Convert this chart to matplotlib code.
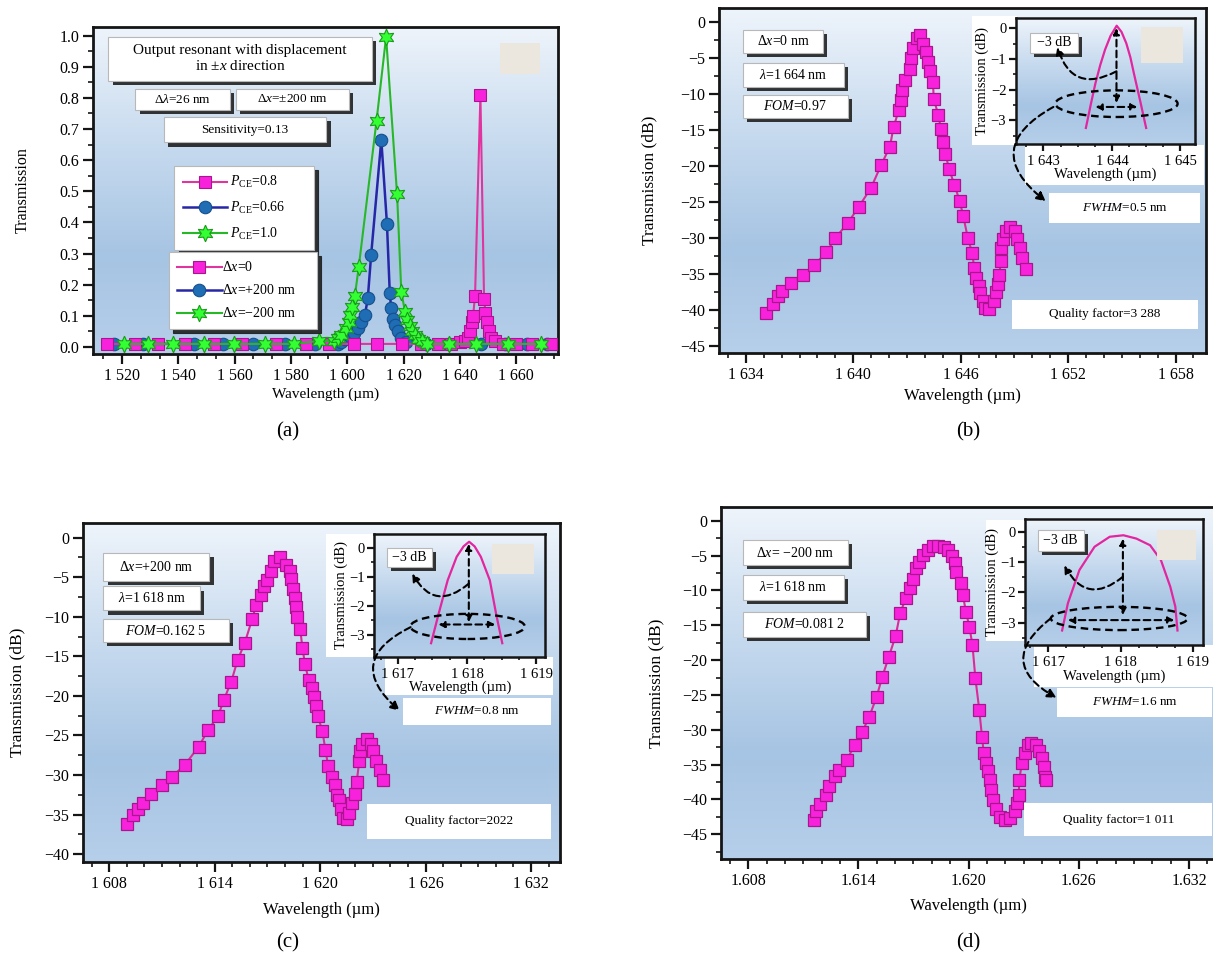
"Transmission spectra of the displaced cavity, four panels"

import matplotlib.pyplot as plt
import matplotlib.patches as mpatches
import matplotlib.patheffects as pe
import numpy as np
from matplotlib.colors import LinearSegmentedColormap
from matplotlib.ticker import FuncFormatter, MultipleLocator

plt.rcParams["font.family"] = ["Liberation Serif", "DejaVu Serif"]
plt.rcParams["mathtext.fontset"] = "custom"
plt.rcParams["mathtext.rm"] = "Liberation Serif"
plt.rcParams["mathtext.it"] = "Liberation Serif:italic"
plt.rcParams["mathtext.bf"] = "Liberation Serif:bold"

#####
# Data
#####

# (a) transmission against wavelength (nm)
a_x_zero = [1514.5, 1524.5, 1532.6, 1542.3, 1552.6, 1562.6, 1574.6, 1585.3, 1593.4,
            1602.4, 1610.4, 1619.5, 1626.1, 1632.2, 1636.7, 1640.0, 1642.0, 1643.0,
            1643.7, 1644.2, 1644.7, 1645.4, 1647.3, 1648.6, 1649.1, 1649.6, 1650.3,
            1651.2, 1652.5, 1655.5, 1660.0, 1665.8, 1672.3]
a_t_zero = [0.01, 0.01, 0.01, 0.01, 0.01, 0.01, 0.01, 0.01, 0.01, 0.01, 0.01, 0.01,
            0.01, 0.01, 0.01, 0.015, 0.02, 0.03, 0.05, 0.08, 0.10, 0.165, 0.81, 0.155,
            0.11, 0.08, 0.05, 0.03, 0.02, 0.01, 0.01, 0.01, 0.01]

a_x_plus = [1517.0, 1527.4, 1545.5, 1555.8, 1566.5, 1577.8, 1588.5, 1596.6, 1597.9,
            1599.2, 1601.1, 1602.4, 1603.7, 1605.0, 1606.3, 1607.3, 1608.5, 1612.1,
            1614.1, 1615.1, 1615.6, 1616.4, 1617.0, 1618.0, 1619.0, 1621.0, 1628.0,
            1636.0, 1647.5, 1656.0, 1664.0, 1671.0]
a_t_plus = [0.01, 0.01, 0.01, 0.01, 0.01, 0.01, 0.01, 0.01, 0.015, 0.025, 0.035, 0.045,
            0.06, 0.08, 0.103, 0.157, 0.297, 0.665, 0.396, 0.175, 0.125, 0.09, 0.07,
            0.05, 0.03, 0.015, 0.01, 0.01, 0.01, 0.01, 0.01, 0.01]

a_x_minus = [1520.6, 1529.3, 1538.0, 1549.0, 1559.7, 1570.7, 1581.1, 1590.1, 1595.3,
             1596.6, 1597.9, 1599.6, 1600.5, 1601.1, 1601.8, 1602.7, 1604.1, 1610.4,
             1613.8, 1617.7, 1619.2, 1620.5, 1621.4, 1622.2, 1623.1, 1624.1, 1625.0,
             1626.4, 1628.3, 1636.0, 1645.8, 1657.0, 1668.7]
a_t_minus = [0.01, 0.01, 0.01, 0.01, 0.01, 0.01, 0.01, 0.02, 0.018, 0.03, 0.04, 0.06,
             0.08, 0.103, 0.13, 0.164, 0.258, 0.726, 0.996, 0.49, 0.178, 0.114, 0.087,
             0.066, 0.05, 0.037, 0.027, 0.018, 0.01, 0.01, 0.01, 0.01, 0.01]

a_pce_labels = ["$P_{\\rm CE}$=0.8", "$P_{\\rm CE}$=0.66", "$P_{\\rm CE}$=1.0"]
a_dx_labels = ["Δ$x$=0", "Δ$x$=+200 nm", "Δ$x$=−200 nm"]
a_xticks = [1520, 1540, 1560, 1580, 1600, 1620, 1640, 1660]
a_yticks = [0.0, 0.1, 0.2, 0.3, 0.4, 0.5, 0.6, 0.7, 0.8, 0.9, 1.0]

# (b) dx = 0, transmission in dB
b_x = [1635.15, 1635.5, 1635.8, 1636.0, 1636.55, 1637.2, 1637.8, 1638.5, 1639.0,
       1639.7, 1640.3, 1641.0, 1641.55, 1642.05, 1642.25, 1642.55, 1642.65, 1642.75,
       1642.9, 1643.15, 1643.2, 1643.35, 1643.55, 1643.75, 1643.9, 1644.05, 1644.2,
       1644.3, 1644.45, 1644.5, 1644.75, 1644.9, 1645.0, 1645.15, 1645.35, 1645.65,
       1645.95, 1646.15, 1646.4, 1646.65, 1646.75, 1646.85, 1647.0, 1647.1, 1647.25,
       1647.35, 1647.6, 1647.85, 1647.95, 1648.1, 1648.15, 1648.25, 1648.28, 1648.35,
       1648.55, 1648.75, 1649.05, 1649.15, 1649.3, 1649.45, 1649.65]
b_t = [-40.4, -39.2, -38.1, -37.3, -36.2, -35.1, -33.8, -32.0, -30.0, -27.9, -25.7,
       -23.0, -19.9, -17.3, -14.6, -12.2, -10.8, -9.4, -8.0, -6.5, -5.0, -3.6, -2.2,
       -1.8, -3.1, -4.2, -5.5, -6.8, -8.4, -10.7, -12.9, -14.9, -16.7, -18.3, -20.4,
       -22.6, -24.9, -27.0, -30.0, -32.1, -34.1, -35.5, -36.6, -37.6, -38.8, -39.7,
       -39.9, -38.8, -37.5, -36.4, -35.1, -33.2, -31.4, -30.1, -29.0, -28.4, -29.0,
       -30.1, -31.4, -32.8, -34.3]
b_inset_x = [1643.62, 1643.69, 1643.76, 1643.83, 1643.9, 1643.98, 1644.07, 1644.14,
             1644.21, 1644.27, 1644.32, 1644.42, 1644.5]
b_inset_t = [-3.25, -2.5, -1.79, -1.2, -0.7, -0.25, 0.08, -0.12, -0.49, -0.95, -1.46,
             -2.44, -3.25]
b_xticks = [1634, 1640, 1646, 1652, 1658]
b_yticks = [0, -5, -10, -15, -20, -25, -30, -35, -40, -45]
b_inset_xticks = [1643, 1644, 1645]
b_notes = ["Δ$x$=0 nm", "$\\lambda$=1 664 nm", "$FOM$=0.97"]
b_fwhm = "$FWHM$=0.5 nm"
b_quality = "Quality factor=3 288"

# (c) dx = +200 nm
c_x = [1608.99, 1609.37, 1609.62, 1609.9, 1610.37, 1610.98, 1611.57, 1612.31, 1613.09,
       1613.63, 1614.2, 1614.52, 1614.94, 1615.3, 1615.71, 1616.13, 1616.36, 1616.62,
       1616.79, 1616.97, 1617.18, 1617.35, 1617.73, 1618.05, 1618.26, 1618.36, 1618.47,
       1618.57, 1618.61, 1618.68, 1618.87, 1618.99, 1619.14, 1619.35, 1619.52, 1619.66,
       1619.77, 1619.87, 1620.13, 1620.3, 1620.46, 1620.65, 1620.82, 1620.97, 1621.09,
       1621.18, 1621.3, 1621.51, 1621.66, 1621.81, 1621.98, 1622.08, 1622.23, 1622.29,
       1622.4, 1622.65, 1622.92, 1623.03, 1623.2, 1623.41, 1623.6]
c_t = [-36.2, -35.1, -34.3, -33.5, -32.4, -31.3, -30.2, -28.7, -26.4, -24.3, -22.5,
       -20.5, -18.2, -15.5, -13.3, -10.3, -8.5, -7.3, -6.1, -5.3, -4.2, -3.0, -2.5,
       -3.5, -4.2, -5.2, -6.5, -7.6, -8.7, -10.0, -11.6, -13.9, -16.0, -18.0, -19.0,
       -20.1, -21.3, -22.5, -24.5, -26.8, -28.9, -30.3, -31.3, -32.5, -33.2, -34.3,
       -35.4, -35.6, -34.8, -33.6, -32.4, -30.9, -28.2, -27.0, -26.1, -25.4, -26.1,
       -27.0, -28.2, -29.4, -30.6]
c_inset_x = [1617.48, 1617.59, 1617.72, 1617.85, 1617.95, 1618.03, 1618.11, 1618.2,
             1618.33, 1618.42, 1618.51]
c_inset_t = [-3.29, -2.27, -1.12, -0.31, 0.05, 0.21, 0.05, -0.31, -1.12, -2.27, -3.29]
c_xticks = [1608, 1614, 1620, 1626, 1632]
c_yticks = [0, -5, -10, -15, -20, -25, -30, -35, -40]
c_inset_xticks = [1617, 1618, 1619]
c_notes = ["Δ$x$=+200 nm", "$\\lambda$=1 618 nm", "$FOM$=0.162 5"]
c_fwhm = "$FWHM$=0.8 nm"
c_quality = "Quality factor=2022"

# (d) dx = -200 nm, wavelength in micrometres
d_x = [1.61156, 1.61168, 1.61193, 1.61224, 1.61241, 1.61272, 1.61297, 1.61338,
       1.61379, 1.61421, 1.61458, 1.61499, 1.6153, 1.61566, 1.61603, 1.61628, 1.61659,
       1.61679, 1.617, 1.61715, 1.61731, 1.61752, 1.61777, 1.61804, 1.61835, 1.61866,
       1.61886, 1.61907, 1.61924, 1.61934, 1.61959, 1.61969, 1.61986, 1.62004, 1.62021,
       1.62037, 1.62058, 1.62073, 1.62083, 1.62093, 1.62104, 1.62114, 1.62124, 1.62135,
       1.62149, 1.6217, 1.62197, 1.62228, 1.62253, 1.62265, 1.62273, 1.62276, 1.6229,
       1.62306, 1.62321, 1.62342, 1.62368, 1.62383, 1.62397, 1.6241, 1.62418, 1.62424]
d_t = [-42.9, -41.7, -40.6, -39.4, -38.1, -36.7, -35.7, -34.3, -32.2, -30.3, -28.2,
       -25.3, -22.4, -19.5, -16.5, -13.2, -11.1, -9.7, -8.4, -6.8, -5.9, -4.9, -4.2,
       -3.6, -3.6, -3.7, -4.2, -5.1, -6.1, -7.3, -9.0, -10.7, -13.1, -15.2, -17.8,
       -22.6, -27.1, -31.0, -33.4, -34.7, -35.9, -37.2, -38.6, -40.1, -41.3, -42.5,
       -42.9, -42.7, -41.7, -40.5, -39.4, -37.2, -34.8, -33.4, -32.2, -31.9, -32.2,
       -33.0, -34.0, -35.4, -36.8, -37.2]
d_inset_x = [1617.19, 1617.27, 1617.43, 1617.64, 1617.85, 1618.04, 1618.22, 1618.41,
             1618.56, 1618.69, 1618.76, 1618.79]
d_inset_t = [-3.26, -2.36, -1.26, -0.49, -0.16, -0.11, -0.22, -0.44, -0.93, -1.81,
             -2.47, -3.26]
d_xticks = [1.608, 1.614, 1.620, 1.626, 1.632]
d_yticks = [0, -5, -10, -15, -20, -25, -30, -35, -40, -45]
d_inset_xticks = [1617, 1618, 1619]
d_notes = ["Δ$x$= −200 nm", "$\\lambda$=1 618 nm", "$FOM$=0.081 2"]
d_fwhm = "$FWHM$=1.6 nm"
d_quality = "Quality factor=1 011"

inset_yticks = [0, -1, -2, -3]

#####
# Styles
#####

PINK_LINE = "#dc2a9a"
PINK_FACE = "#f822dc"
PINK_EDGE = "#a8168e"
BEIGE = "#ebe7df"
DASH = (0, (3.2, 2.0))

backdrop_cmap = LinearSegmentedColormap.from_list(
    "backdrop", [(0, "#b6cfea"), (0.3, "#a6c4e3"), (0.65, "#c8dbef"), (1, "#eef4fb")]
)


def grouped(v, pos):
    n = int(round(v))
    return f"{n // 1000} {n % 1000:03d}"


def signed(v, pos):
    return f"{v:g}".replace("-", "\u2212")


def backdrop(ax):
    "Vertical blue gradient behind the plot area"
    grad = np.linspace(0, 1, 256).reshape(-1, 1)
    ax.imshow(grad, cmap=backdrop_cmap, origin="lower", extent=[0, 1, 0, 1],
              transform=ax.transAxes, aspect="auto", zorder=0, interpolation="bilinear")


def frame(ax, xlim, ylim, labelsize=11.5, major=7, minor=3.5, lw=2.0):
    "Gradient, limits, spines and outward ticks"
    backdrop(ax)
    ax.set_xlim(xlim)
    ax.set_ylim(ylim)
    for s in ax.spines.values():
        s.set_linewidth(lw)
        s.set_color("#151515")
    ax.tick_params(which="both", direction="out", top=False, right=False,
                   width=1.6, color="#151515", labelsize=labelsize)
    ax.tick_params(which="major", length=major, pad=3)
    ax.tick_params(which="minor", length=minor, width=1.2)


def box(ax, x0, y0, x1, y1, text, shadow=True, size=10, edge="0.72"):
    "White note box in axes fraction, optionally with a drop shadow"
    rect = mpatches.Rectangle((x0, y0), x1 - x0, y1 - y0, transform=ax.transAxes,
                              facecolor="white", edgecolor=edge, lw=0.8, zorder=6)
    if shadow:
        rect.set_path_effects([
            pe.withSimplePatchShadow(offset=(3, -3), shadow_rgbFace="0.12", alpha=0.9)
        ])
    ax.add_patch(rect)
    if text:
        ax.text((x0 + x1) / 2, (y0 + y1) / 2, text, transform=ax.transAxes,
                ha="center", va="center", fontsize=size, zorder=7)


def plain_rect(ax, x0, y0, x1, y1, color, z=4):
    ax.add_patch(mpatches.Rectangle((x0, y0), x1 - x0, y1 - y0, transform=ax.transAxes,
                                    facecolor=color, edgecolor="none", zorder=z))


def spectrum(ax, x, t):
    ax.plot(x, t, color=PINK_LINE, lw=1.5, marker="s", ms=8.8, mfc=PINK_FACE,
            mec=PINK_EDGE, mew=0.9, zorder=3)


def db_panel(fig, pos, x, t, xlim, ylim, xticks, yticks, fmt, notes, lay):
    "One dB spectrum panel with its notes and inset"
    ax = fig.add_axes(pos)
    frame(ax, xlim, ylim)
    spectrum(ax, x, t)
    ax.set_xticks(xticks)
    ax.xaxis.set_minor_locator(MultipleLocator(lay["xminor"]))
    ax.xaxis.set_major_formatter(FuncFormatter(fmt))
    ax.set_yticks(yticks)
    ax.yaxis.set_minor_locator(MultipleLocator(2.5))
    ax.yaxis.set_major_formatter(FuncFormatter(signed))
    ax.set_xlim(xlim)
    ax.set_ylim(ylim)
    ax.set_xlabel("Wavelength (\u00b5m)", fontsize=12)
    ax.set_ylabel("Transmission (dB)", fontsize=12.5)
    ax.xaxis.set_label_coords(0.5, lay["xlab"])
    ax.yaxis.set_label_coords(lay["ylab"], 0.5)

    for (x0, y0, x1, y1), text in zip(lay["notes"], notes):
        box(ax, x0, y0, x1, y1, text)
    box(ax, *lay["fwhm"], lay["fwhm_text"], shadow=False, edge="none", size=9.5)
    box(ax, *lay["quality"], lay["quality_text"], shadow=False, edge="none", size=9.5)
    for r in lay["white"]:
        plain_rect(ax, *r, "white")
    return ax


def inset(fig, ax, rect, x, t, xlim, ylim, xticks, lay):
    "Zoomed -3 dB inset with dashed FWHM marks"
    ins = ax.inset_axes(rect)
    frame(ins, xlim, ylim, labelsize=10.5, major=5, minor=2.5, lw=1.8)
    ins.plot(x, t, color="#e2269f", lw=1.6, zorder=3)
    ins.set_xticks(xticks)
    ins.xaxis.set_minor_locator(MultipleLocator(0.25))
    ins.xaxis.set_major_formatter(FuncFormatter(grouped))
    ins.set_yticks(inset_yticks)
    ins.yaxis.set_minor_locator(MultipleLocator(0.5))
    ins.yaxis.set_major_formatter(FuncFormatter(signed))
    ins.set_xlim(xlim)
    ins.set_ylim(ylim)
    ins.tick_params(axis="y", pad=2)
    ins.set_xlabel("Wavelength (\u00b5m)", fontsize=10.5, labelpad=0)
    ins.set_ylabel("Transmission (dB)", fontsize=10.5, labelpad=1)

    plain_rect(ins, *lay["beige"], BEIGE, z=5)
    box(ins, *lay["db"], "\u22123 dB", size=10)

    ex, ey, ew, eh = lay["ellipse"]
    ins.add_patch(mpatches.Ellipse((ex, ey), ew, eh, transform=ins.transAxes, fill=False,
                                   ec="k", lw=1.7, ls=DASH, zorder=6))
    vx, vy0, vy1 = lay["vert"]
    ins.annotate("", xy=(vx, vy0), xytext=(vx, vy1), xycoords="axes fraction",
                 arrowprops=dict(arrowstyle="<|-|>", color="k", lw=1.5, ls=DASH,
                                 mutation_scale=9, shrinkA=0, shrinkB=0), zorder=7)
    hy, hx0, hx1 = lay["horiz"]
    ins.annotate("", xy=(hx0, hy), xytext=(hx1, hy), xycoords="axes fraction",
                 arrowprops=dict(arrowstyle="<|-|>", color="k", lw=1.5, ls=DASH,
                                 mutation_scale=9, shrinkA=0, shrinkB=0), zorder=7)
    (cx0, cy0), (cx1, cy1) = lay["curl"]
    ins.annotate("", xy=(cx1, cy1), xytext=(cx0, cy0), xycoords="axes fraction",
                 arrowprops=dict(arrowstyle="-|>", color="k", lw=1.5, ls=DASH,
                                 mutation_scale=11, shrinkA=0, shrinkB=0,
                                 connectionstyle="arc3,rad=-0.6"), zorder=7)
    big = mpatches.ConnectionPatch(
        xyA=lay["big"][0], coordsA=ins.transAxes, xyB=lay["big"][1], coordsB=ax.transAxes,
        arrowstyle="-|>", color="k", lw=1.5, ls=DASH, mutation_scale=13,
        shrinkA=0, shrinkB=0, connectionstyle="arc3,rad=0.75", zorder=8)
    fig.add_artist(big)
    return ins


#####
# Figure
#####

fig = plt.figure(figsize=(12.13, 9.57), dpi=100)

# (a)
ax = fig.add_axes([0.0767, 0.6301, 0.3834, 0.3417])
frame(ax, (1509.7, 1674.9), (-0.0224, 1.0277))
blue, = ax.plot(a_x_plus, a_t_plus, color="#2626a8", lw=1.8, marker="o", ms=9,
                mfc="#1f6db4", mec="#17508c", mew=0.8, zorder=3)
pink, = ax.plot(a_x_zero, a_t_zero, color="#e0349e", lw=1.5, marker="s", ms=8.5,
                mfc=PINK_FACE, mec=PINK_EDGE, mew=0.8, zorder=3)
green, = ax.plot(a_x_minus, a_t_minus, color="#27b827", lw=1.5, marker=(6, 1, 0),
                 ms=12, mfc="#33ff33", mec="#1c9a1c", mew=0.8, zorder=3)
ax.set_xticks(a_xticks)
ax.xaxis.set_minor_locator(MultipleLocator(20 / 3))
ax.xaxis.set_major_formatter(FuncFormatter(grouped))
ax.set_yticks(a_yticks)
ax.yaxis.set_minor_locator(MultipleLocator(0.05))
ax.yaxis.set_major_formatter(FuncFormatter(lambda v, p: f"{v:.1f}"))
ax.set_xlim(1509.7, 1674.9)
ax.set_ylim(-0.0224, 1.0277)
ax.set_xlabel("Wavelength (\u00b5m)", fontsize=11)
ax.set_ylabel("Transmission", fontsize=11.5)
ax.xaxis.set_label_coords(0.5, -0.104)
ax.yaxis.set_label_coords(-0.135, 0.5)

box(ax, 0.033, 0.835, 0.600, 0.970,
    "Output resonant with displacement\nin ±$x$ direction", size=11)
box(ax, 0.091, 0.746, 0.295, 0.811, "Δ$\\lambda$=26 nm", size=9.5)
box(ax, 0.307, 0.746, 0.550, 0.811, "Δ$x$=±200 nm", size=9.5)
box(ax, 0.152, 0.647, 0.502, 0.726, "Sensitivity=0.13", size=9.5)
plain_rect(ax, 0.876, 0.855, 0.962, 0.951, BEIGE, z=5)

handles = [pink, blue, green]
shadow = {"ox": 3, "oy": -3, "facecolor": "0.12", "edgecolor": "0.12", "alpha": 0.9}
leg1 = ax.legend(handles, a_pce_labels, loc="upper left",
                 bbox_to_anchor=(0.16, 0.355, 0.329, 0.241), mode="expand",
                 fontsize=10, handlelength=3.2, handletextpad=0.2, labelspacing=0.7,
                 borderpad=0.6, fancybox=False, framealpha=1, edgecolor="0.72",
                 shadow=shadow)
leg1.get_frame().set_linewidth(0.8)
ax.add_artist(leg1)
leg2 = ax.legend(handles, a_dx_labels, loc="upper left",
                 bbox_to_anchor=(0.148, 0.099, 0.349, 0.234), mode="expand",
                 fontsize=10, handlelength=3.2, handletextpad=0.0, labelspacing=0.65,
                 borderpad=0.6, fancybox=False, framealpha=1, edgecolor="0.72",
                 shadow=shadow)
leg2.get_frame().set_linewidth(0.8)

# (b)
lay_b = dict(
    xminor=1.0, xlab=-0.101, ylab=-0.127,
    notes=[(0.049, 0.870, 0.214, 0.937), (0.049, 0.771, 0.257, 0.841),
           (0.049, 0.681, 0.264, 0.749)],
    fwhm=(0.678, 0.377, 0.988, 0.464), fwhm_text=b_fwhm,
    quality=(0.601, 0.069, 0.983, 0.155), quality_text=b_quality,
    white=[(0.519, 0.604, 0.613, 0.976), (0.628, 0.488, 0.996, 0.604)],
)
ax_b = db_panel(fig, [0.5927, 0.6311, 0.4015, 0.3605], b_x, b_t, (1632.5, 1659.7),
                (-45.97, 1.94), b_xticks, b_yticks, grouped, b_notes, lay_b)
inset(fig, ax_b, [0.610, 0.607, 0.367, 0.364], b_inset_x, b_inset_t,
      (1642.6, 1645.21), (-3.76, 0.33), b_inset_xticks,
      dict(beige=(0.701, 0.642, 0.936, 0.928), db=(0.077, 0.724, 0.348, 0.883),
           ellipse=(0.562, 0.318, 0.684, 0.212), vert=(0.562, 0.92, 0.324),
           horiz=(0.292, 0.444, 0.679), curl=((0.562, 0.576), (0.231, 0.77)),
           big=((0.209, 0.292), (0.671, 0.44))))

# (c)
lay_c = dict(
    xminor=1.0, xlab=-0.117, ylab=-0.12,
    notes=[(0.043, 0.828, 0.265, 0.911), (0.043, 0.742, 0.246, 0.813),
           (0.041, 0.648, 0.306, 0.717)],
    fwhm=(0.670, 0.405, 0.981, 0.484), fwhm_text=c_fwhm,
    quality=(0.596, 0.067, 0.981, 0.172), quality_text=c_quality,
    white=[(0.509, 0.604, 0.609, 0.968), (0.633, 0.494, 0.985, 0.604)],
)
ax_c = db_panel(fig, [0.0684, 0.0993, 0.3932, 0.3542], c_x, c_t, (1606.5, 1633.65),
                (-41.0, 1.86), c_xticks, c_yticks, grouped, c_notes, lay_c)
inset(fig, ax_c, [0.611, 0.606, 0.358, 0.361], c_inset_x, c_inset_t,
      (1616.66, 1619.13), (-3.75, 0.47), c_inset_xticks,
      dict(beige=(0.691, 0.678, 0.935, 0.918), db=(0.071, 0.735, 0.337, 0.891),
           ellipse=(0.546, 0.246, 0.67, 0.205), vert=(0.553, 0.923, 0.281),
           horiz=(0.262, 0.374, 0.708), curl=((0.553, 0.596), (0.222, 0.678)),
           big=((0.212, 0.24), (0.664, 0.446))))

# (d)
lay_d = dict(
    xminor=0.001, xlab=-0.111, ylab=-0.115,
    notes=[(0.044, 0.835, 0.257, 0.906), (0.044, 0.736, 0.249, 0.807),
           (0.044, 0.630, 0.294, 0.703)],
    fwhm=(0.681, 0.404, 0.994, 0.486), fwhm_text=d_fwhm,
    quality=(0.614, 0.064, 0.994, 0.160), quality_text=d_quality,
    white=[(0.537, 0.618, 0.616, 0.962), (0.633, 0.490, 1.0, 0.608)],
)
ax_d = db_panel(fig, [0.5944, 0.1024, 0.4073, 0.3678], d_x, d_t, (1.60652, 1.63342),
                (-48.54, 1.97), d_xticks, d_yticks, lambda v, p: f"{v:.3f}", d_notes,
                lay_d)
inset(fig, ax_d, [0.616, 0.608, 0.359, 0.359], d_inset_x, d_inset_t,
      (1616.68, 1619.14), (-3.74, 0.44), d_inset_xticks,
      dict(beige=(0.743, 0.676, 0.964, 0.913), db=(0.069, 0.747, 0.33, 0.913),
           ellipse=(0.529, 0.21, 0.771, 0.184), vert=(0.55, 0.842, 0.237),
           horiz=(0.197, 0.24, 0.84), curl=((0.55, 0.54), (0.22, 0.63)),
           big=((0.143, 0.21), (0.679, 0.458))))

for x, y, tag in [(288, 432, "(a)"), (968, 432, "(b)"), (288, 943, "(c)"), (968, 943, "(d)")]:
    fig.text(x / 1213, 1 - y / 957, tag, ha="center", va="center", fontsize=15)

fig.savefig("out.png", dpi=100)
